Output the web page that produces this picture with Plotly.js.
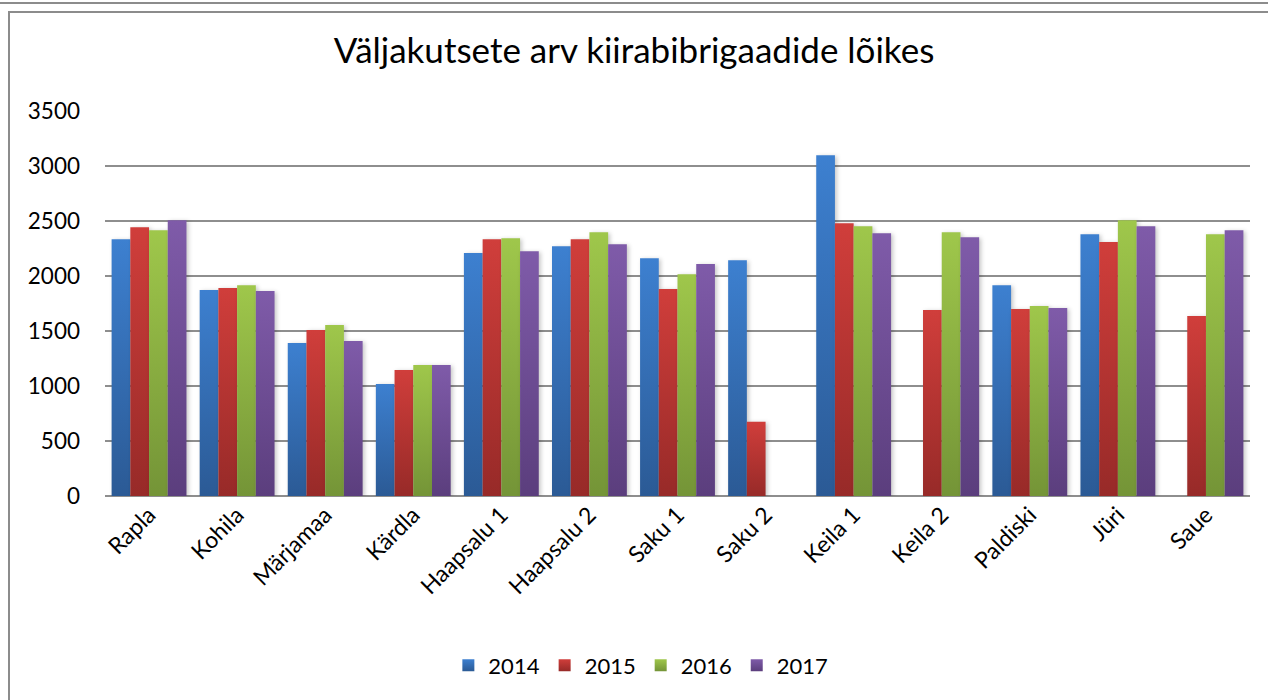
<!DOCTYPE html>
<html>
<head>
<meta charset="utf-8">
<script src="https://cdn.plot.ly/plotly-3.0.1.min.js"></script>
<style>
  html, body { margin: 0; padding: 0; background: #fff; }
  #wrap { position: relative; width: 1268px; height: 700px; overflow: hidden; }
  #chart { position: absolute; left: 0; top: 0; width: 1268px; height: 700px; }
  .frame { position: absolute; background: #8c8c8c; }
</style>
</head>
<body>
<div id="wrap">
  <div id="chart"></div>
  <div class="frame" style="left:0; top:2px; width:1268px; height:2px;"></div>
  <div class="frame" style="left:8px; top:11px; width:1260px; height:2px;"></div>
  <div class="frame" style="left:8px; top:11px; width:2px; height:689px;"></div>
</div>
<script>
const categories = ["Rapla", "Kohila", "Märjamaa", "Kärdla", "Haapsalu 1", "Haapsalu 2", "Saku 1", "Saku 2", "Keila 1", "Keila 2", "Paldiski", "Jüri", "Saue"];
const years = ["2014", "2015", "2016", "2017"];
const v2014 = [2335, 1872, 1391, 1019, 2208, 2271, 2162, 2144, 3097, null, 1917, 2380, null];
const v2015 = [2444, 1890, 1509, 1146, 2335, 2335, 1881, 674, 2480, 1690, 1700, 2308, 1636];
const v2016 = [2416, 1917, 1554, 1191, 2344, 2398, 2017, null, 2453, 2398, 1727, 2507, 2380];
const v2017 = [2507, 1863, 1409, 1191, 2226, 2289, 2108, null, 2389, 2353, 1709, 2453, 2416];
const yTicks = [0, 500, 1000, 1500, 2000, 2500, 3000, 3500];

const series = [v2014, v2015, v2016, v2017];
const topColors = ["#3d80d0", "#d03e3b", "#9fc74b", "#7f5ba9"];
const bottomColors = ["#2b5a95", "#972a28", "#749437", "#5b3e7d"];
const midColors = ["#3570b8", "#bb3633", "#8bb042", "#6f4f95"];

const FONT = "Lato, 'Open Sans', sans-serif";

const traces = series.map((vals, i) => ({
  type: "bar",
  name: years[i],
  x: categories,
  y: vals,
  marker: { color: midColors[i], line: { width: 0 } },
  hoverinfo: "x+y+name"
}));

const layout = {
  width: 1268,
  height: 700,
  paper_bgcolor: "rgba(0,0,0,0)",
  plot_bgcolor: "rgba(0,0,0,0)",
  margin: { l: 105, r: 18, t: 111, b: 204 },
  title: {
    text: "Väljakutsete arv kiirabibrigaadide lõikes",
    font: { family: FONT, size: 35, color: "#000" },
    x: 0.5, xanchor: "center",
    y: 0.927, yanchor: "middle"
  },
  barmode: "group",
  bargap: 0.15,
  bargroupgap: 0,
  showlegend: true,
  legend: {
    orientation: "h",
    x: 0.468, xanchor: "center",
    y: -0.44, yanchor: "middle",
    font: { family: FONT, size: 22, color: "#000" },
    itemwidth: 30,
    tracegroupgap: 0
  },
  xaxis: {
    type: "category",
    tickangle: -45,
    tickfont: { family: FONT, size: 23, color: "#000" },
    showgrid: false,
    showline: false,
    zeroline: false,
    ticks: ""
  },
  yaxis: {
    range: [0, 3500],
    tickvals: yTicks,
    ticktext: yTicks.map(String),
    tickfont: { family: FONT, size: 22.5, color: "#000" },
    showgrid: true,
    gridcolor: "#8e8e8e",
    gridwidth: 2,
    zeroline: true,
    zerolinecolor: "#8e8e8e",
    zerolinewidth: 2,
    showline: false,
    ticks: "",
    ticklabelstandoff: 24
  }
};

Plotly.newPlot("chart", traces, layout, { displayModeBar: false, staticPlot: true }).then(applyGradients);

function applyGradients() {
  const svg = document.querySelector("#chart .main-svg");
  const NS = "http://www.w3.org/2000/svg";
  let defs = svg.querySelector("defs");
  if (!defs) { defs = document.createElementNS(NS, "defs"); svg.insertBefore(defs, svg.firstChild); }
  topColors.forEach((c, i) => {
    const g = document.createElementNS(NS, "linearGradient");
    g.setAttribute("id", "bargrad" + i);
    g.setAttribute("x1", "0"); g.setAttribute("y1", "0");
    g.setAttribute("x2", "0"); g.setAttribute("y2", "1");
    const s1 = document.createElementNS(NS, "stop");
    s1.setAttribute("offset", "0"); s1.setAttribute("stop-color", c);
    const s2 = document.createElementNS(NS, "stop");
    s2.setAttribute("offset", "1"); s2.setAttribute("stop-color", bottomColors[i]);
    g.appendChild(s1); g.appendChild(s2);
    defs.appendChild(g);
  });
  document.querySelectorAll("#chart .barlayer .trace").forEach((tr, i) => {
    tr.querySelectorAll("path").forEach(p => {
      p.style.fill = "url(#bargrad" + i + ")";
      p.style.filter = "drop-shadow(2px 1px 2px rgba(0,0,0,0.22))";
    });
  });
  document.querySelectorAll("#chart .legend .traces").forEach((tr, i) => {
    tr.querySelectorAll(".legendpoints path").forEach(p => {
      p.style.fill = "url(#bargrad" + i + ")";
    });
  });
}
</script>
</body>
</html>
